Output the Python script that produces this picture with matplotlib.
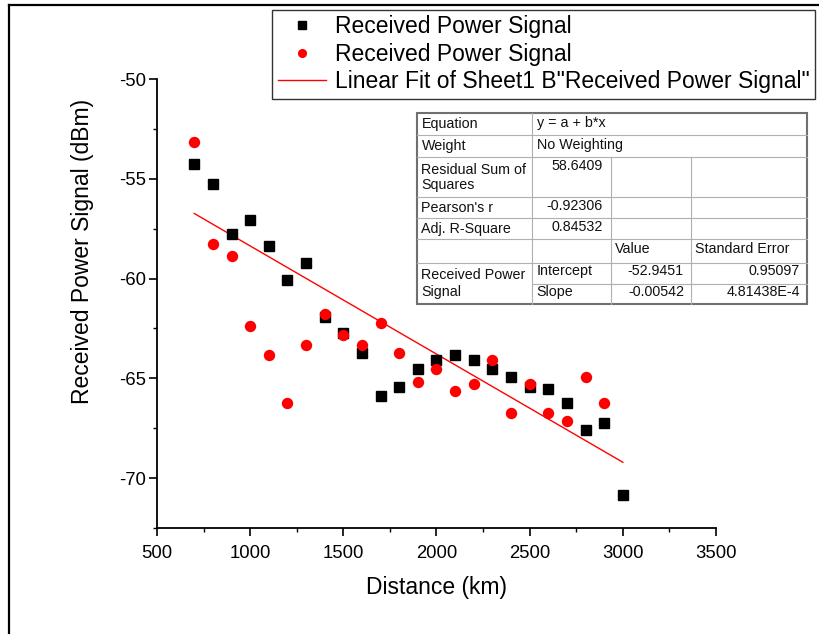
import matplotlib.pyplot as plt
from matplotlib.lines import Line2D
from matplotlib.patches import Rectangle
from matplotlib.ticker import MultipleLocator

plt.rcParams["font.family"] = ["Liberation Sans", "DejaVu Sans"]
plt.rcParams["axes.unicode_minus"] = False

BLACK = "#000000"
RED = "#FF0000"
TABLE_EDGE = "#707070"
TABLE_GRID = "#B0B0B0"

# measured points
black_distance = [700, 800, 900, 1000, 1100, 1200, 1300, 1400, 1500, 1600, 1700, 1800,
                  1900, 2000, 2100, 2200, 2300, 2400, 2500, 2600, 2700, 2800, 2900, 3000]
black_power = [-54.25, -55.25, -57.76, -57.05, -58.38, -60.07, -59.23, -61.92, -62.72, -63.72,
               -65.88, -65.42, -64.55, -64.08, -63.85, -64.08, -64.55, -64.93, -65.43, -65.52,
               -66.25, -67.58, -67.22, -70.85]
red_distance = [700, 800, 900, 1000, 1100, 1200, 1300, 1400, 1500, 1600, 1700, 1800,
                1900, 2000, 2100, 2200, 2300, 2400, 2500, 2600, 2700, 2800, 2900]
red_power = [-53.17, -58.25, -58.85, -62.38, -63.83, -66.25, -63.35, -61.77, -62.85, -63.35,
             -62.25, -63.72, -65.17, -64.55, -65.65, -65.28, -64.08, -66.75, -65.28, -66.75,
             -67.12, -64.93, -66.25]

fit_intercept = -52.9451
fit_slope = -0.00542

series_label = "Received Power Signal"
fit_label = 'Linear Fit of Sheet1 B"Received Power Signal"'

# fit report
stat_names = ["Equation", "Weight", "Residual Sum of\nSquares", "Pearson's r", "Adj. R-Square"]
stat_values = ["y = a + b*x", "No Weighting", "58.6409", "-0.92306", "0.84532"]
param_header = ["Value", "Standard Error"]
param_group = "Received Power\nSignal"
param_names = ["Intercept", "Slope"]
param_values = ["-52.9451", "-0.00542"]
param_errors = ["0.95097", "4.81438E-4"]

fig = plt.figure(figsize=(8.2, 6.34), dpi=100, facecolor="white")
ax = fig.add_axes([157 / 820, 1 - 528 / 634, 559 / 820, 449 / 634])

ax.plot(black_distance, black_power, linestyle="none", marker="s", markersize=7.8,
        color=BLACK, label=series_label, zorder=3)
ax.plot(red_distance, red_power, linestyle="none", marker="o", markersize=8.2,
        color=RED, markeredgewidth=0, label=series_label, zorder=3)
fit_x = [min(black_distance), max(black_distance)]
fit_y = [fit_intercept + fit_slope * x for x in fit_x]
ax.plot(fit_x, fit_y, color=RED, linewidth=1.0, label=fit_label, zorder=2)

ax.set_xlim(500, 3500)
ax.set_ylim(-72.5, -50)
ax.xaxis.set_major_locator(MultipleLocator(500))
ax.xaxis.set_minor_locator(MultipleLocator(250))
ax.yaxis.set_major_locator(MultipleLocator(5))
ax.yaxis.set_minor_locator(MultipleLocator(2.5))
ax.spines[["top", "right"]].set_visible(False)
for side in ["left", "bottom"]:
    ax.spines[side].set_linewidth(1.3)
ax.tick_params(which="major", direction="out", length=6, width=1.2, labelsize=13.3)
ax.tick_params(which="minor", direction="out", length=3, width=1.0)
ax.tick_params(axis="x", which="major", pad=6)
ax.tick_params(axis="y", which="major", pad=2)
ax.set_xlabel("Distance (km)", fontsize=16.5)
ax.set_ylabel("Received Power Signal (dBm)", fontsize=16.5)
ax.xaxis.set_label_coords(0.5, -0.107)
ax.yaxis.set_label_coords(-0.113, 0.615)

handles, labels = ax.get_legend_handles_labels()
legend = fig.legend(handles, labels, loc="upper left", bbox_to_anchor=(272 / 820, 1 - 10 / 634),
                    frameon=True, fancybox=False, edgecolor=BLACK, fontsize=16.5,
                    borderaxespad=0, borderpad=0.24, handlelength=2.1, handletextpad=0.4,
                    labelspacing=0.19, markerscale=0.8)
legend.get_frame().set_linewidth(1.0)

# overlay in pixel units for the fit table and the page frame
over = fig.add_axes([0, 0, 1, 1], zorder=10)
over.set_xlim(0, 820)
over.set_ylim(634, 0)
over.axis("off")

over.add_line(Line2D([9, 820], [5, 5], color=BLACK, linewidth=1.6))
over.add_line(Line2D([9, 9], [5, 634], color=BLACK, linewidth=1.6))

left, right, top, bottom = 417, 807, 113, 304
col_a, col_b, col_c = 531.7, 611, 691
row_edges = [113, 135, 157.3, 197.3, 218.3, 239.3, 262.7, 284, 304]

over.add_patch(Rectangle((left, top), right - left, bottom - top, facecolor="white",
                         edgecolor="none"))
for y in row_edges[1:-2]:
    over.add_line(Line2D([left, right], [y, y], color=TABLE_GRID, linewidth=0.8))
over.add_line(Line2D([col_a, right], [row_edges[7]] * 2, color=TABLE_GRID, linewidth=0.8))
over.add_line(Line2D([col_a, col_a], [top, bottom], color=TABLE_GRID, linewidth=0.8))
for x in [col_b, col_c]:
    over.add_line(Line2D([x, x], [row_edges[2], bottom], color=TABLE_GRID, linewidth=0.8))
over.add_patch(Rectangle((left, top), right - left, bottom - top, facecolor="none",
                         edgecolor=TABLE_EDGE, linewidth=1.5))

text_kw = dict(fontsize=10.3, color="#111111")
for i, (name, value) in enumerate(zip(stat_names, stat_values)):
    y0, y1 = row_edges[i], row_edges[i + 1]
    mid = (y0 + y1) / 2
    over.text(left + 4.5, mid, name, ha="left", va="center", linespacing=1.1, **text_kw)
    if i < 2:
        over.text(col_a + 5, mid - 1.5, value, ha="left", va="center", **text_kw)
    elif i == 2:
        over.text(col_b - 8, y0 + 8.5, value, ha="right", va="center", **text_kw)
    else:
        over.text(col_b - 8, mid - 1.5, value, ha="right", va="center", **text_kw)

header_mid = (row_edges[5] + row_edges[6]) / 2 - 2
over.text(col_b + 4, header_mid, param_header[0], ha="left", va="center", **text_kw)
over.text(col_c + 4, header_mid, param_header[1], ha="left", va="center", **text_kw)
over.text(left + 4.5, (row_edges[6] + row_edges[8]) / 2, param_group, ha="left",
          va="center", linespacing=1.25, **text_kw)
for i in range(len(param_names)):
    mid = (row_edges[6 + i] + row_edges[7 + i]) / 2 - 2
    over.text(col_a + 5, mid, param_names[i], ha="left", va="center", **text_kw)
    over.text(col_c - 7, mid, param_values[i], ha="right", va="center", **text_kw)
    over.text(right - 7, mid, param_errors[i], ha="right", va="center", **text_kw)

fig.savefig("out.png", dpi=100, facecolor="white")
